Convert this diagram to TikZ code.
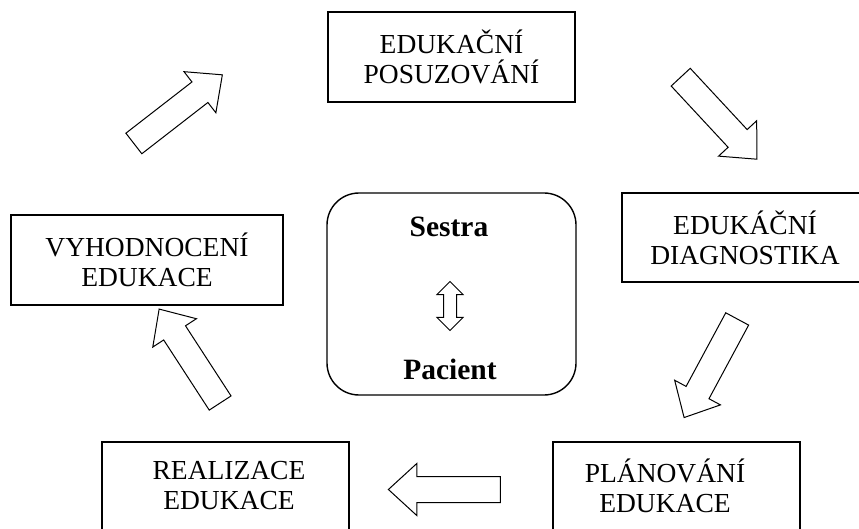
\documentclass[tikz,border=0pt]{standalone}
\usepackage{fontspec}
\setmainfont{Liberation Serif}
\usetikzlibrary{shapes.arrows}

\tikzset{
  stagebox/.style={draw, line width=1.8pt, minimum width=247pt, minimum height=90pt,
    inner sep=0pt, align=center, font=\fontsize{27.5}{30}\selectfont},
  stagetext/.style={align=center, inner sep=0pt, font=\fontsize{27.5}{30}\selectfont},
  centrebox/.style={draw, line width=1.4pt, rounded corners=32pt, minimum width=249pt,
    minimum height=202pt, inner sep=0pt},
  person/.style={inner sep=0pt, anchor=base, font=\fontsize{29.5}{34}\selectfont\bfseries},
  blockarrow/.style={single arrow, draw, line width=1pt, inner xsep=0pt, inner ysep=12.5pt,
    single arrow head extend=13pt, single arrow tip angle=85, minimum height=112pt,
    minimum width=0pt},
  dblarrow/.style={double arrow, draw, line width=1pt, inner xsep=0pt, inner ysep=6pt,
    double arrow head extend=6.5pt, minimum height=49pt, minimum width=0pt}
}

\begin{document}
\begin{tikzpicture}[x=1pt, y=-1pt]
    \clip (0,0) rectangle (859,529);
    % five stages round the cycle
    \node[stagebox] (posuz) at (451.5,57) {EDUKAČNÍ\\POSUZOVÁNÍ};
    \node[stagebox, minimum width=246pt, minimum height=89pt] (diag) at (745,237.5) {EDUKÁČNÍ\\DIAGNOSTIKA};
    \node[stagebox] (plan) at (676.5,487) {};
    \node[stagetext] (plantext) at (665,486) {PLÁNOVÁNÍ\\EDUKACE};
    \node[stagebox] (real) at (225.5,487) {};
    \node[stagetext] (realtext) at (229,486) {REALIZACE\\EDUKACE};
    \node[stagebox, minimum width=272pt] (vyhod) at (147,260) {VYHODNOCENÍ\\EDUKACE};
    % centre
    \node[centrebox] (centre) at (451.5,294) {};
    \node[person] (sestra) at (449,237) {Sestra};
    \node[person] (pacient) at (450,379) {Pacient};
    \node[dblarrow, rotate=90] (vztah) at (450,306) {};
    % arrows between the stages
    \foreach \x/\y/\ang/\nm in {172.5/113.5/37.8/arrA, 714/113/-47.1/arrB,
        714/362/-118.3/arrC, 451.5/489.5/180/arrD, 193.5/362/123/arrE}
    \node[blockarrow, rotate=\ang] (\nm) at (\x,\y) {};
\end{tikzpicture}
\end{document}
